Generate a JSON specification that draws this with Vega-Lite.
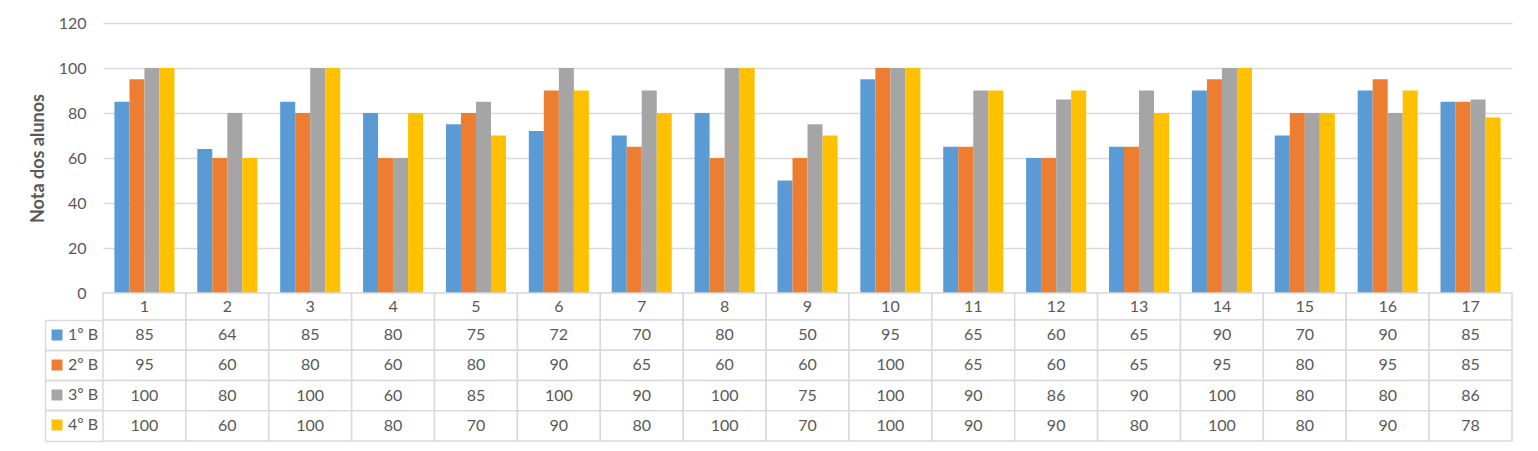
{
  "$schema": "https://vega.github.io/schema/vega-lite/v6.json",
  "background": "white",
  "padding": {"left": 29, "top": 15, "right": 5, "bottom": 5},
  "bounds": "flush",
  "spacing": 0,
  "data": {"values": [
    {"q":1,"s":"1º B","v":85},{"q":2,"s":"1º B","v":64},{"q":3,"s":"1º B","v":85},{"q":4,"s":"1º B","v":80},{"q":5,"s":"1º B","v":75},{"q":6,"s":"1º B","v":72},{"q":7,"s":"1º B","v":70},{"q":8,"s":"1º B","v":80},{"q":9,"s":"1º B","v":50},{"q":10,"s":"1º B","v":95},{"q":11,"s":"1º B","v":65},{"q":12,"s":"1º B","v":60},{"q":13,"s":"1º B","v":65},{"q":14,"s":"1º B","v":90},{"q":15,"s":"1º B","v":70},{"q":16,"s":"1º B","v":90},{"q":17,"s":"1º B","v":85},
    {"q":1,"s":"2º B","v":95},{"q":2,"s":"2º B","v":60},{"q":3,"s":"2º B","v":80},{"q":4,"s":"2º B","v":60},{"q":5,"s":"2º B","v":80},{"q":6,"s":"2º B","v":90},{"q":7,"s":"2º B","v":65},{"q":8,"s":"2º B","v":60},{"q":9,"s":"2º B","v":60},{"q":10,"s":"2º B","v":100},{"q":11,"s":"2º B","v":65},{"q":12,"s":"2º B","v":60},{"q":13,"s":"2º B","v":65},{"q":14,"s":"2º B","v":95},{"q":15,"s":"2º B","v":80},{"q":16,"s":"2º B","v":95},{"q":17,"s":"2º B","v":85},
    {"q":1,"s":"3º B","v":100},{"q":2,"s":"3º B","v":80},{"q":3,"s":"3º B","v":100},{"q":4,"s":"3º B","v":60},{"q":5,"s":"3º B","v":85},{"q":6,"s":"3º B","v":100},{"q":7,"s":"3º B","v":90},{"q":8,"s":"3º B","v":100},{"q":9,"s":"3º B","v":75},{"q":10,"s":"3º B","v":100},{"q":11,"s":"3º B","v":90},{"q":12,"s":"3º B","v":86},{"q":13,"s":"3º B","v":90},{"q":14,"s":"3º B","v":100},{"q":15,"s":"3º B","v":80},{"q":16,"s":"3º B","v":80},{"q":17,"s":"3º B","v":86},
    {"q":1,"s":"4º B","v":100},{"q":2,"s":"4º B","v":60},{"q":3,"s":"4º B","v":100},{"q":4,"s":"4º B","v":80},{"q":5,"s":"4º B","v":70},{"q":6,"s":"4º B","v":90},{"q":7,"s":"4º B","v":80},{"q":8,"s":"4º B","v":100},{"q":9,"s":"4º B","v":70},{"q":10,"s":"4º B","v":100},{"q":11,"s":"4º B","v":90},{"q":12,"s":"4º B","v":90},{"q":13,"s":"4º B","v":80},{"q":14,"s":"4º B","v":100},{"q":15,"s":"4º B","v":80},{"q":16,"s":"4º B","v":90},{"q":17,"s":"4º B","v":78}
  ]},
  "config": {"font": "Lato", "view": {"stroke": null}},
  "vconcat": [
    {
      "width": 1409,
      "height": 270,
      "mark": {"type": "bar"},
      "encoding": {
        "x": {"field": "q", "type": "ordinal", "scale": {"paddingInner": 0, "paddingOuter": 0}, "axis": null},
        "xOffset": {"field": "s", "type": "nominal", "scale": {"paddingInner": 0, "paddingOuter": 0.76}},
        "y": {"field": "v", "type": "quantitative", "scale": {"domain": [0, 120]},
          "axis": {"values": [0,20,40,60,80,100,120], "title": "Nota dos alunos", "grid": true, "gridColor": "#D9D9D9", "gridWidth": 1.5,
            "domain": false, "ticks": false, "tickSize": 0, "labelPadding": 17, "labelFontSize": 16, "labelColor": "#595959",
            "titleFontSize": 18, "titleFontWeight": "bold", "titleColor": "#595959", "titlePadding": 11}},
        "color": {"field": "s", "type": "nominal",
          "scale": {"domain": ["1º B","2º B","3º B","4º B"], "range": ["#5B9BD5","#ED7D31","#A5A5A5","#FFC000"]},
          "legend": {"orient": "none", "legendX": -54, "legendY": 304, "title": null, "symbolType": "square", "symbolSize": 121,
            "symbolStrokeWidth": 0, "labelFontSize": 16, "labelColor": "#595959", "rowPadding": 14, "padding": 0, "labelOffset": 3}}
      }
    },
    {
      "width": 1409,
      "height": 27,
      "transform": [{"filter": "datum.s == '1º B'"}],
      "layer": [
        {"mark": {"type": "rect", "fill": "white", "stroke": "#D9D9D9", "strokeWidth": 1.5},
         "encoding": {"x": {"field": "q", "type": "ordinal", "scale": {"paddingInner": 0, "paddingOuter": 0}, "axis": null}}},
        {"mark": {"type": "text", "fontSize": 16, "fill": "#595959"},
         "encoding": {"x": {"field": "q", "type": "ordinal", "axis": null}, "text": {"field": "q"}}}
      ]
    },
    {
      "width": 1409,
      "height": 121,
      "layer": [
        {"mark": {"type": "rect", "fill": "white", "stroke": "#D9D9D9", "strokeWidth": 1.5},
         "encoding": {
           "x": {"field": "q", "type": "ordinal", "scale": {"paddingInner": 0, "paddingOuter": 0}, "axis": null},
           "y": {"field": "s", "type": "nominal", "scale": {"paddingInner": 0, "paddingOuter": 0},
             "axis": {"orient": "left", "offset": 0, "domain": false, "ticks": true, "tickSize": 58, "bandPosition": 0,
               "tickColor": "#D9D9D9", "tickWidth": 1.5, "labels": false, "title": null, "grid": false}}}},
        {"mark": {"type": "text", "fontSize": 16, "fill": "#595959"},
         "encoding": {
           "x": {"field": "q", "type": "ordinal", "axis": null},
           "y": {"field": "s", "type": "nominal",
             "axis": {"orient": "left", "offset": 58, "domain": true, "domainColor": "#D9D9D9", "domainWidth": 1.5, "ticks": true, "tickSize": -58, "bandPosition": 1,
               "tickColor": "#D9D9D9", "tickWidth": 1.5, "labels": false, "title": null, "grid": false}},
           "text": {"field": "v"}}}
      ],
      "resolve": {"axis": {"y": "independent"}}
    }
  ]
}
